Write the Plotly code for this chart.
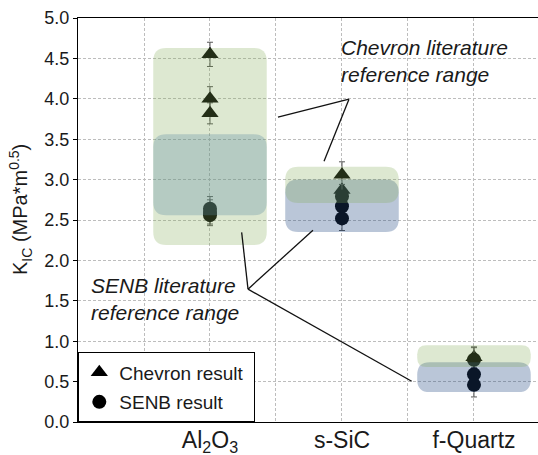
import plotly.graph_objects as go

# ---------------- data ----------------
categories = ["Al<sub>2</sub>O<sub>3</sub>", "s-SiC", "f-Quartz"]
cat_pos = [1, 2, 3]

# Chevron results (per category) and their errors
chevron_values = [[4.55, 4.00, 3.82], [3.06, 2.87], [0.80]]
chevron_errors = [[0.15, 0.15, 0.13], [0.16, 0.07], [0.13]]

# SENB results (per category) and their errors
senb_values = [[2.64, 2.60, 2.56], [2.79, 2.67, 2.52], [0.77, 0.59, 0.46]]
senb_errors = [[0.15, 0.15, 0.13], [0.15, 0.15, 0.15], [0.15, 0.15, 0.15]]

# literature reference ranges (low, high) per category
chevron_lit_low = [2.19, 2.71, 0.68]
chevron_lit_high = [4.63, 3.16, 0.95]
senb_lit_low = [2.56, 2.35, 0.37]
senb_lit_high = [3.56, 3.00, 0.74]

y_ticks = [0.0, 0.5, 1.0, 1.5, 2.0, 2.5, 3.0, 3.5, 4.0, 4.5, 5.0]

# annotation leader-line anchors (data coordinates)
chev_vertex = (2.053, 3.995)
chev_targets = [(1.515, 3.772), (1.864, 3.227)]
senb_vertex = (1.288, 1.644)
senb_targets = [(1.240, 2.346), (1.780, 2.374), (2.528, 0.504)]

# ---------------- layout constants ----------------
W, H = 538, 455
ML, MR, MT, MB = 78, 0, 18, 33
XR = [0, 3.485]
YR = [0, 5.0]
px_x = (W - ML - MR) / (XR[1] - XR[0])
px_y = (H - MT - MB) / (YR[1] - YR[0])
BOX_HALF = 0.43

GREEN = "rgba(131,169,85,0.27)"
BLUE = "rgba(32,71,129,0.31)"
BLUE_AL = "rgba(88,135,160,0.30)"
FONT = "Liberation Sans, Arial, sans-serif"


def rrect(x0, x1, y0, y1, r_px=13):
    h_px = (y1 - y0) * px_y
    r = min(r_px, h_px / 2.4)
    rx = r / px_x
    ry = r / px_y
    return (f"M{x0+rx},{y0} L{x1-rx},{y0} Q{x1},{y0} {x1},{y0+ry} "
            f"L{x1},{y1-ry} Q{x1},{y1} {x1-rx},{y1} L{x0+rx},{y1} "
            f"Q{x0},{y1} {x0},{y1-ry} L{x0},{y0+ry} Q{x0},{y0} {x0+rx},{y0} Z")


fig = go.Figure()

# flatten data
cx, cy, ce = [], [], []
for p, vals, errs in zip(cat_pos, chevron_values, chevron_errors):
    cx += [p] * len(vals); cy += vals; ce += errs
sx, sy, se = [], [], []
for p, vals, errs in zip(cat_pos, senb_values, senb_errors):
    sx += [p] * len(vals); sy += vals; se += errs

fig.add_trace(go.Scatter(
    x=cx, y=cy, mode="markers", name="Chevron result\u00a0", legendgroup="a",
    marker=dict(symbol="triangle-up", size=15, color="black"),
    error_y=dict(type="data", array=ce, visible=True, color="#555555",
                 thickness=1, width=3),
))
fig.add_trace(go.Scatter(
    x=sx, y=sy, mode="markers", name="SENB result\u00a0", legendgroup="b",
    marker=dict(symbol="circle", size=14, color="black"),
    error_y=dict(type="data", array=se, visible=True, color="#555555",
                 thickness=1, width=3),
))

shapes = []
for i, p in enumerate(cat_pos):
    x0, x1 = p - BOX_HALF, p + BOX_HALF
    if i == 0:
        order = [("c", GREEN), ("s", BLUE_AL)]
    else:
        order = [("s", BLUE), ("c", GREEN)]
    for kind, col in order:
        if kind == "c":
            lo, hi = chevron_lit_low[i], chevron_lit_high[i]
        else:
            lo, hi = senb_lit_low[i], senb_lit_high[i]
        shapes.append(dict(type="path", xref="x", yref="y", path=rrect(x0, x1, lo, hi),
                           fillcolor=col, line=dict(width=0), layer="above"))

for tx, ty in chev_targets:
    shapes.append(dict(type="line", xref="x", yref="y", x0=chev_vertex[0], y0=chev_vertex[1],
                       x1=tx, y1=ty, line=dict(color="#111111", width=1.3), layer="above"))
for tx, ty in senb_targets:
    shapes.append(dict(type="line", xref="x", yref="y", x0=senb_vertex[0], y0=senb_vertex[1],
                       x1=tx, y1=ty, line=dict(color="#111111", width=1.3), layer="above"))

annotations = [
    dict(x=1.977, y=4.467, xref="x", yref="y", xanchor="left", yanchor="middle",
         text="<i>Chevron literature<br>reference range</i>", showarrow=False, align="left",
         font=dict(size=21, color="#1a1a1a", family=FONT)),
    dict(x=0.083, y=1.52, xref="x", yref="y", xanchor="left", yanchor="middle",
         text="<i>SENB literature<br>reference range</i>", showarrow=False, align="left",
         font=dict(size=21, color="#1a1a1a", family=FONT)),
    dict(x=(20 - ML) / (W - ML - MR), y=(H - MB - 210) / (H - MT - MB), xref="paper", yref="paper",
         xanchor="center", yanchor="middle", textangle=-90, showarrow=False,
         text="K<sub>IC</sub> (MPa*m<sup>0.5</sup>)",
         font=dict(size=20, color="#1a1a1a", family=FONT)),
]

fig.update_layout(
    width=W, height=H,
    margin=dict(l=ML, r=MR, t=MT, b=MB, pad=0),
    paper_bgcolor="white", plot_bgcolor="white",
    font=dict(family=FONT, color="#1a1a1a"),
    shapes=shapes, annotations=annotations,
    showlegend=True,
    legend=dict(x=0, y=0, xanchor="left", yanchor="bottom", bgcolor="white",
                bordercolor="black", borderwidth=1.3, traceorder="grouped",
                tracegroupgap=2,
                font=dict(size=19, family=FONT, color="#1a1a1a"),
                itemsizing="trace"),
)
fig.update_xaxes(
    range=XR, tickvals=cat_pos, ticktext=categories, ticks="",
    tickfont=dict(size=23, family=FONT, color="#1a1a1a"),
    ticklabelstandoff=-3,
    showline=True, linecolor="black", linewidth=1.3, mirror=True,
    showgrid=True, gridcolor="#bdbdbd", gridwidth=1, griddash="3px,2px",
    minor=dict(tickvals=[0.5, 1.5, 2.5, 3.5], showgrid=True, gridcolor="#bdbdbd",
               gridwidth=1, griddash="3px,2px"),
    zeroline=False, automargin=False, fixedrange=True,
)
fig.update_yaxes(
    range=YR, tickvals=y_ticks, tickformat=".1f", ticks="outside", ticklen=4,
    tickcolor="black", tickwidth=1,
    tickfont=dict(size=18, family=FONT, color="#1a1a1a"),
    showline=True, linecolor="black", linewidth=1.3, mirror=False,
    showgrid=True, gridcolor="#bdbdbd", gridwidth=1, griddash="3px,2px",
    zeroline=False, automargin=False, fixedrange=True,
)

fig.write_html("out.html", config={"displayModeBar": False})
